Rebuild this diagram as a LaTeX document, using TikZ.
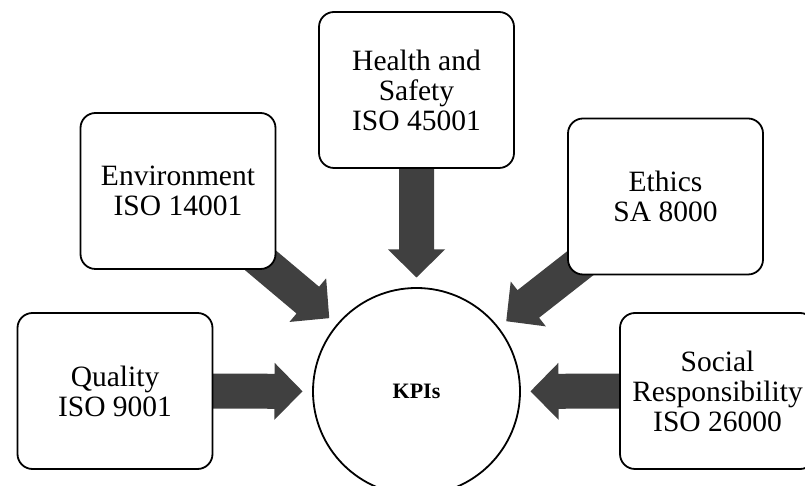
\documentclass[tikz,border=0pt]{standalone}
\usepackage{fontspec}
\setmainfont{Liberation Serif}
\usetikzlibrary{calc,backgrounds}
\definecolor{arrowgray}{HTML}{404040}
\tikzset{
  stdbox/.style={draw=black, line width=1.8pt, fill=white, rounded corners=15pt,
    minimum width=195pt, minimum height=156pt, align=center, inner sep=0pt,
    font=\fontsize{29.5}{30}\selectfont},
  kpicircle/.style={draw=black, line width=1.8pt, fill=white, circle,
    minimum size=207pt, inner sep=0pt, font=\fontsize{22}{24}\selectfont\bfseries},
  blockarrow/.style={fill=arrowgray}
}
\begin{document}
\begin{tikzpicture}[x=1pt,y=1pt]
\useasboundingbox (0,0) rectangle (805,486);
\node[stdbox] (qual) at (115,95) {Quality\\ISO 9001};
\node[stdbox] (env) at (178,295) {Environment\\ISO 14001};
\node[stdbox] (hs) at (416.5,396) {Health and\\Safety\\ISO 45001};
\node[stdbox] (eth) at (665.5,289.5) {Ethics\\SA 8000};
\node[stdbox] (soc) at (717.5,95) {Social\\Responsibility\\ISO 26000};
\node[kpicircle] (kpi) at (416.5,94.5) {KPIs};
\begin{scope}[on background layer]
\foreach \b in {qual,env,hs,eth,soc}{
  \path let \p1=($(\b.center)-(kpi.center)$), \n1={atan2(\y1,\x1)} in
    \pgfextra{\xdef\arrang{\n1}};
  \fill[blockarrow, shift={(kpi.center)}, rotate=\arrang]
    (114,0) -- (142,28.5) -- (142,17.5) -- (230,17.5) -- (230,-17.5)
    -- (142,-17.5) -- (142,-28.5) -- cycle;
}
\end{scope}
\end{tikzpicture}
\end{document}
